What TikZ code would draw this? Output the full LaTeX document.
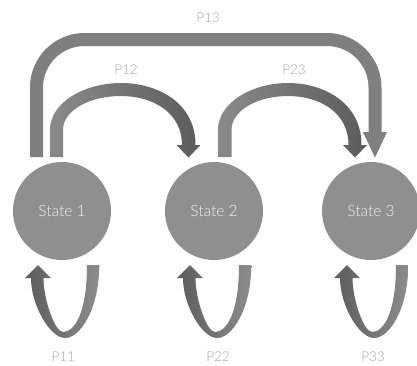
\documentclass[tikz,border=0pt]{standalone}
\usepackage{fontspec}
\setmainfont{Lato Light}
\usetikzlibrary{calc}

\definecolor{statefill}{RGB}{143,143,143}
\definecolor{bigarrow}{RGB}{127,127,127}
\definecolor{arclight}{RGB}{138,138,138}
\definecolor{arcdark}{RGB}{92,92,92}
\definecolor{loopdark}{RGB}{92,92,92}
\definecolor{looplight}{RGB}{140,140,140}
\definecolor{labelgray}{RGB}{166,166,166}
\definecolor{statetext}{RGB}{240,240,240}

\begin{document}
\begin{tikzpicture}[x=1pt,y=-1pt,
  state/.style={circle,fill=statefill,minimum size=98pt,inner sep=0pt,
    text=statetext,font=\fontsize{15.5}{17}\selectfont},
  plabel/.style={text=labelgray,font=\fontsize{13.5}{15}\selectfont,inner sep=0pt},
  arcarrow/.style={left color=arclight,right color=arcdark,draw=none},
  % twisted U-turn ribbon below a state, head pointing back up into it
  selfloop/.pic={
    \path[left color=loopdark,right color=looplight,draw=none]
      (37.3,54) .. controls (37,99) and (18,127) .. (3,127)
      .. controls (-12,127) and (-31,94) .. (-31,67)
      -- (-37,67) -- (-24,54) -- (-11,67) -- (-18.5,67)
      .. controls (-18.5,89) and (-7,121) .. (1,121)
      .. controls (13,121) and (25,101) .. (25,54) -- cycle;
  }
]
\fill[white] (0,0) rectangle (417,365);
\clip (0,0) rectangle (417,365);

% states
\node[state] (s1) at (62,211) {State 1};
\node[state] (s2) at (214,211) {State 2};
\node[state] (s3) at (371,211) {State 3};

% P13: wide bracket arrow from state 1 over to state 3
\coordinate (p13start) at ($(s1)+(-25.5,-54)$);
\coordinate (p13end) at ($(s3)+(4,-79)$);
\draw[bigarrow,line width=13pt,rounded corners=48pt]
  (p13start) |- (208,39.5) -| (p13end);
\fill[bigarrow] ($(p13end)+(-12,0)$) -- ($(p13end)+(12,0)$) -- ($(p13end)+(0,25.5)$) -- cycle;

% P12: curved arrow from state 1 to state 2
\path[arcarrow]
  (50,157) -- (50,130) .. controls (50,102) and (85,83) .. (121,83)
  .. controls (158,83) and (195.5,103) .. (195.5,145)
  -- (200.5,145) -- (188.5,157.5) -- (176.5,145) -- (182,145)
  .. controls (182,112) and (152,96) .. (121,96)
  .. controls (90,96) and (63,110) .. (63,130) -- (63,157) -- cycle;

% P23: curved arrow from state 2 to state 3
\path[arcarrow]
  (218,157) -- (218,130) .. controls (218,102) and (253,83) .. (288,83)
  .. controls (324,83) and (361.5,103) .. (361.5,145)
  -- (367,145) -- (355,157.5) -- (343,145) -- (348.5,145)
  .. controls (348.5,112) and (319,96) .. (288,96)
  .. controls (258,96) and (231.5,110) .. (231.5,130) -- (231.5,157) -- cycle;

% self loops
\pic at (s1) {selfloop};
\pic at (s2) {selfloop};
\pic at (s3) {selfloop};

% transition labels
\node[plabel] (l13) at (208,18) {P13};
\node[plabel] (l12) at (126,69.5) {P12};
\node[plabel] (l23) at (294,69.5) {P23};
\node[plabel] (l11) at ($(s1)+(1.3,145.7)$) {P11};
\node[plabel] (l22) at ($(s2)+(4,145.7)$) {P22};
\node[plabel] (l33) at ($(s3)+(2,145.7)$) {P33};
\end{tikzpicture}
\end{document}
